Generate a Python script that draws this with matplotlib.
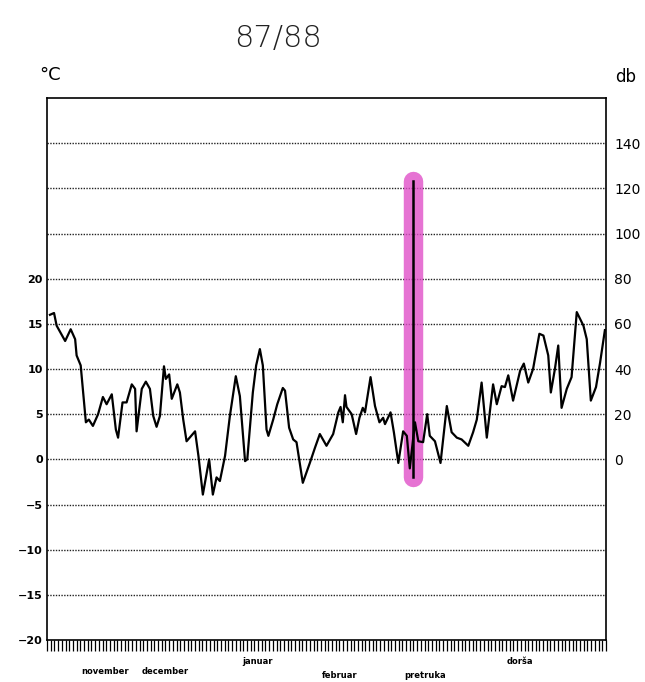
import matplotlib
matplotlib.use("Agg")
import matplotlib.pyplot as plt

# daily mean temperature, winter 87/88 (day 0 = 1 november)
days = [0.8, 1.9, 2.6, 4.9, 6.4, 7.6, 8.0, 9.1, 10.5, 11.3, 12.4, 13.8, 15.1, 16.1,
        17.5, 18.6, 19.2, 20.4, 21.5, 22.9, 23.8, 24.2, 25.6, 26.7, 27.8, 28.7, 29.6,
        30.5, 31.6, 32.1, 33.0, 33.7, 35.2, 35.9, 36.8, 37.7, 40.0, 40.9, 42.1, 43.8,
        44.8, 45.8, 46.7, 48.1, 49.4, 51.0, 52.1, 53.5, 54.1, 55.6, 56.5, 57.5, 58.3,
        59.3, 59.8, 61.1, 62.2, 63.7, 64.3, 65.4, 66.5, 67.4, 69.1, 71.0, 72.4, 73.7,
        75.5, 77.3, 78.7, 79.3, 79.9, 80.5, 80.9, 82.3, 83.5, 84.4, 85.3, 85.9, 87.4,
        88.6, 89.8, 90.8, 91.3, 92.8, 93.7, 94.9, 96.2, 97.2, 98.0, 99.4, 100.3, 101.6,
        102.7, 103.4, 104.8, 106.3, 108.0, 109.3, 110.7, 112.0, 113.8, 115.1, 116.1,
        117.4, 118.8, 120.5, 121.5, 122.8, 123.7, 124.6, 125.9, 127.8, 128.8, 130.0,
        131.3, 133.0, 134.1, 135.4, 136.1, 137.2, 138.1, 139.0, 140.4, 141.7, 143.1,
        144.9, 145.8, 146.9, 148.3, 149.4, 150.7]
temp = [16.0, 16.2, 14.8, 13.1, 14.4, 13.3, 11.5, 10.4, 4.1, 4.4, 3.7, 5.0, 6.9, 6.1,
        7.2, 3.3, 2.4, 6.3, 6.3, 8.3, 7.8, 3.1, 7.8, 8.6, 7.8, 4.8, 3.6,
        4.8, 10.3, 8.9, 9.4, 6.7, 8.3, 7.4, 4.4, 2.0, 3.1, 0.4, -3.9, 0.0,
        -3.9, -2.0, -2.4, 0.4, 4.8, 9.2, 7.0, -0.2, 0.0, 7.4, 10.4, 12.2, 10.4,
        3.3, 2.6, 4.4, 6.1, 7.9, 7.6, 3.5, 2.2, 1.9, -2.6, -0.4, 1.3, 2.8,
        1.5, 2.8, 5.2, 5.8, 4.1, 7.1, 5.8, 5.0, 2.8, 4.6, 5.7, 5.2, 9.1,
        5.9, 4.1, 4.6, 3.9, 5.2, 3.0, -0.4, 3.1, 2.6, -1.0, 4.1, 2.0, 1.9,
        5.0, 2.6, 2.0, -0.4, 5.9, 3.0, 2.4, 2.2, 1.5, 3.0, 4.4,
        8.5, 2.4, 8.3, 6.1, 8.1, 8.0, 9.3, 6.5, 9.8, 10.6, 8.5,
        10.0, 13.9, 13.7, 11.5, 7.4, 10.0, 12.6, 5.7, 7.8, 9.1, 16.3,
        14.8, 13.3, 6.5, 8.0, 10.7, 14.3]

# marked day with its bar (top in degC)
mark_day = 98.9
mark_low = -2.0
mark_high = 30.8

left_ticks = [-20, -15, -10, -5, 0, 5, 10, 15, 20]
grid_levels = [-15, -10, -5, 0, 5, 10, 15, 20, 25, 30, 35]
db_ticks = [0, 20, 40, 60, 80, 100, 120, 140]

months = ["november", "december", "januar", "februar", "pretruka", "dorša"]
month_x = [105, 165, 258, 340, 425, 520]
month_y = [672, 672, 661, 675, 675, 661]

W, H = 645, 682
fig = plt.figure(figsize=(W / 100, H / 100), dpi=100)
ax = fig.add_axes([47 / W, 1 - 640 / H, (606 - 47) / W, (640 - 98) / H])

for g in grid_levels:
    ax.axhline(g, color="#222222", lw=1.0, ls=(0, (1, 1)), zorder=1)

ax.plot([mark_day, mark_day], [mark_low, mark_high], color="#e050c8", lw=14,
        alpha=0.8, solid_capstyle="round", zorder=2)
ax.plot([mark_day, mark_day], [mark_low, mark_high], color="black", lw=1.8, zorder=4)

ax.plot(days, temp, color="black", lw=1.6, zorder=3)

ax.set_xlim(0, 151)
ax.set_ylim(-20, 40)
ax.set_yticks(left_ticks)
ax.set_yticklabels([str(t).replace("-", "\u2212") for t in left_ticks],
                   fontsize=8, fontweight="bold")
ax.tick_params(axis="y", length=0, pad=3)
ax.set_xticks(range(0, 152))
ax.set_xticklabels([])
ax.tick_params(axis="x", direction="out", length=8, width=0.9)
for s in ax.spines.values():
    s.set_linewidth(1.2)

ax2 = ax.twinx()
ax2.set_ylim(-80, 160)
ax2.set_yticks(db_ticks)
ax2.set_yticklabels([str(t) for t in db_ticks], fontsize=10)
ax2.tick_params(axis="y", length=0, pad=6)
for s in ax2.spines.values():
    s.set_visible(False)

fig.text(278 / W, 1 - 38 / H, "87/88", fontsize=22, ha="center", va="center",
         color="#222222", fontweight="light")
fig.text(50 / W, 1 - 75 / H, "°C", fontsize=13, ha="center", va="center")
fig.text(626 / W, 1 - 77 / H, "db", fontsize=12, ha="center", va="center")

for name, x, y in zip(months, month_x, month_y):
    fig.text(x / W, 1 - y / H, name, fontsize=6, ha="center", va="center",
             fontweight="bold")

fig.savefig("out.png", dpi=100)
